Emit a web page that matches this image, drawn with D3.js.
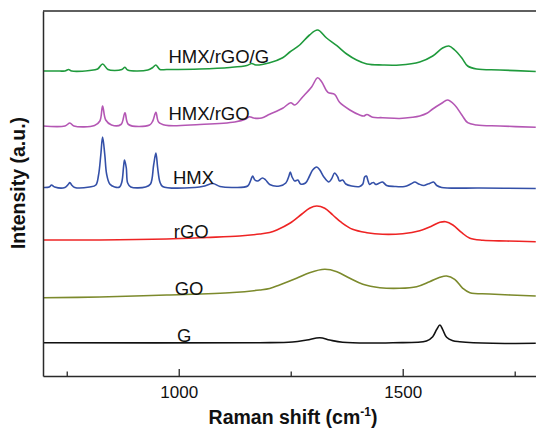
<!DOCTYPE html>
<html>
<head>
<meta charset="utf-8">
<script src="https://cdn.jsdelivr.net/npm/d3@7"></script>
<style>
  html, body { margin: 0; padding: 0; background: #fff; }
  svg { display: block; }
  text { font-family: "Liberation Sans", Arial, sans-serif; }
</style>
</head>
<body>
<svg id="chart" width="536" height="429"></svg>
<script>
// ---- Data (Raman shift in cm^-1, intensity in a.u., stacked offsets included) ----
const seriesNames = ["HMX/rGO/G", "HMX/rGO", "HMX", "rGO", "GO", "G"];
const seriesColors = ["#1f9a3c", "#b457b4", "#3450a8", "#ee2424", "#7c8a2c", "#111111"];

const hmxRgoG = [[697,305],[734,305],[746,305],[754,306.5],[761,305],[801,305.5],[819,307],[830,312],[842,306.5],[857,305.5],[873,306.5],[880,308.7],[886,306],[931,306],[942,308.5],[949,311],[958,306.5],[973,306.5],[1047,307],[1114,308.5],[1152,310.5],[1163,312.5],[1172,311],[1203,313.3],[1232,318.3],[1248,324],[1270,331],[1292,341],[1310,346],[1330,338],[1353,330.3],[1375,322],[1397,316],[1420,312],[1455,311],[1493,311],[1538,314],[1567,320],[1589,328],[1603,330],[1616,326],[1632,318],[1645,310],[1665,307],[1717,306],[1797,304.5]];

const hmxRgo = [[697,250],[746,250],[757,253],[766,250],[812,250.5],[824,255],[830,270],[837,256],[850,251],[871,251.5],[880,263.3],[888,251.5],[935,251],[942,255],[949,263.7],[955,254],[971,250.7],[1047,251.5],[1125,254],[1150,257],[1158,259.3],[1167,258],[1185,258],[1203,261.7],[1232,267.7],[1250,273.3],[1259,271],[1277,279.3],[1297,289.3],[1310,298.3],[1319,294.3],[1333,283.7],[1348,281.7],[1359,273.7],[1382,266],[1404,261],[1413,260],[1420,261.5],[1433,258.7],[1455,258.3],[1493,257.5],[1522,258.7],[1538,260],[1554,262.7],[1567,267],[1587,272.7],[1600,276],[1616,271],[1632,261],[1645,253.3],[1665,251],[1717,250],[1797,248.7]];

const hmx = [[697,188.5],[711,189],[716,191],[723,189],[746,188.5],[754,192],[757,193.5],[761,191],[768,188.5],[801,189],[815,191],[821,201],[826,221],[830,239],[835,221],[839,202],[846,192],[857,189],[868,189],[873,194],[877,210],[879,216],[883,208],[886,193],[893,189],[926,189],[937,192],[944,211],[949,223],[953,208],[958,194],[964,189.5],[1036,188.5],[1058,190],[1076,192.5],[1092,189.5],[1125,188.5],[1154,190],[1161,196],[1165,200],[1170,196],[1176,195],[1187,198],[1194,196],[1203,191.5],[1225,190],[1239,193],[1246,200],[1249,204],[1253,199],[1259,195],[1266,196],[1272,192],[1283,193],[1292,200],[1299,206],[1308,209],[1315,206],[1324,199],[1335,194],[1341,197],[1348,203],[1355,199],[1359,195],[1366,196],[1373,192],[1386,190],[1404,189.5],[1411,192],[1415,199],[1419,200],[1422,196],[1426,191.5],[1431,193],[1435,193.5],[1440,191.5],[1446,192.5],[1455,194],[1464,190.5],[1482,189.5],[1504,189.5],[1518,192],[1527,194],[1536,192],[1547,190.5],[1556,192],[1560,192.5],[1569,194],[1576,190.5],[1587,188.5],[1672,188],[1797,187.5]];

const rgo = [[697,136],[824,136],[973,137],[1062,138.5],[1136,140],[1181,142],[1203,143.5],[1219,146],[1248,152.7],[1275,162],[1292,167.7],[1308,170],[1326,167.7],[1344,161],[1364,153.3],[1388,146.7],[1420,143.3],[1455,141.7],[1500,142.3],[1538,145.3],[1565,150],[1583,153.7],[1596,154.3],[1612,151],[1632,143.3],[1650,137.7],[1679,135.7],[1732,135],[1797,134.3]];

const go = [[697,78.3],[824,79],[973,81],[1121,83.5],[1181,86],[1203,87.5],[1225,91],[1263,97.7],[1292,103.3],[1326,106.7],[1353,104.3],[1382,97.7],[1411,91.7],[1449,88.3],[1493,87.7],[1531,89.3],[1560,94.3],[1583,98.7],[1598,100],[1616,96.7],[1634,87.7],[1650,83.3],[1694,82],[1797,80]];

const g = [[697,33.3],[1181,33.3],[1254,34],[1286,36],[1315,38.3],[1337,36],[1366,33.7],[1478,33.3],[1553,35],[1567,39.3],[1576,46.7],[1583,51],[1589,46.7],[1598,38.7],[1612,35.3],[1627,34.3],[1701,32.7],[1797,32.7]];

const seriesData = [hmxRgoG, hmxRgo, hmx, rgo, go, g];

// label anchor positions in data units: [wavenumber, intensity]
const labelPos = [[977,320],[977,263],[987,199],[989,145],[991,88],[996,41]];

const majorTicks = [1000, 1500];
const minorTicks = [750, 1250, 1750];
const xDomain = [697, 1800];
const yDomain = [0, 365];

// ---- Drawing ----
const svg = d3.select("#chart");
const mLeft = 43, mTop = 11, mBottom = 376, mRight = 537.1;

const x = d3.scaleLinear().domain(xDomain).range([mLeft, mRight]);
const y = d3.scaleLinear().domain(yDomain).range([mBottom, mTop]);

svg.append("defs").append("clipPath").attr("id", "clip")
  .append("rect").attr("x", mLeft).attr("y", mTop).attr("width", mRight - mLeft).attr("height", mBottom - mTop);

const line = d3.line().x(d => x(d[0])).y(d => y(d[1])).curve(d3.curveCatmullRom.alpha(0.5));

const plot = svg.append("g").attr("clip-path", "url(#clip)");
seriesData.forEach((s, i) => {
  plot.append("path").datum(s)
    .attr("d", line)
    .attr("fill", "none")
    .attr("stroke", seriesColors[i])
    .attr("stroke-width", 1.6)
    .attr("stroke-linejoin", "round");
});

// labels
seriesNames.forEach((n, i) => {
  svg.append("text")
    .attr("x", x(labelPos[i][0]))
    .attr("y", y(labelPos[i][1]))
    .attr("dy", "0.36em")
    .attr("font-size", "18.5px")
    .attr("fill", "#111")
    .text(n);
});

// axes
const axisColor = "#2a2a2a";
const xAxis = d3.axisBottom(x).tickValues(majorTicks).tickFormat(d3.format("d"))
  .tickSizeInner(-7).tickSizeOuter(0).tickPadding(10);
const gx = svg.append("g").attr("transform", `translate(0,${mBottom})`).call(xAxis);
gx.select(".domain").attr("stroke", axisColor).attr("stroke-width", 1.5);
gx.selectAll(".tick line").attr("stroke", axisColor).attr("stroke-width", 1.3);
gx.selectAll(".tick text").attr("font-size", "17px").attr("fill", "#111")
  .attr("font-family", "'Liberation Sans', Arial, sans-serif");

const xMinor = d3.axisBottom(x).tickValues(minorTicks).tickFormat("")
  .tickSizeInner(-4.5).tickSizeOuter(0);
const gm = svg.append("g").attr("transform", `translate(0,${mBottom})`).call(xMinor);
gm.select(".domain").remove();
gm.selectAll(".tick line").attr("stroke", axisColor).attr("stroke-width", 1.3);

// left axis line and top border
const yAxis = d3.axisLeft(y).tickValues([]).tickSizeOuter(0);
const gy = svg.append("g").attr("transform", `translate(${mLeft},0)`).call(yAxis);
gy.select(".domain").attr("stroke", axisColor).attr("stroke-width", 1.5);
svg.append("line").attr("x1", mLeft).attr("x2", 536).attr("y1", mTop).attr("y2", mTop)
  .attr("stroke", axisColor).attr("stroke-width", 1.5);

// axis titles
const xt = svg.append("text")
  .attr("x", 293).attr("y", 424)
  .attr("text-anchor", "middle")
  .attr("font-size", "19.5px").attr("font-weight", "bold").attr("fill", "#111");
xt.append("tspan").text("Raman shift (cm");
xt.append("tspan").attr("font-size", "12px").attr("dy", "-8").text("-1");
xt.append("tspan").attr("dy", "8").text(")");

svg.append("text")
  .attr("transform", "translate(25,183) rotate(-90)")
  .attr("text-anchor", "middle")
  .attr("font-size", "19.5px").attr("font-weight", "bold").attr("fill", "#111")
  .text("Intensity (a.u.)");
</script>
</body>
</html>
